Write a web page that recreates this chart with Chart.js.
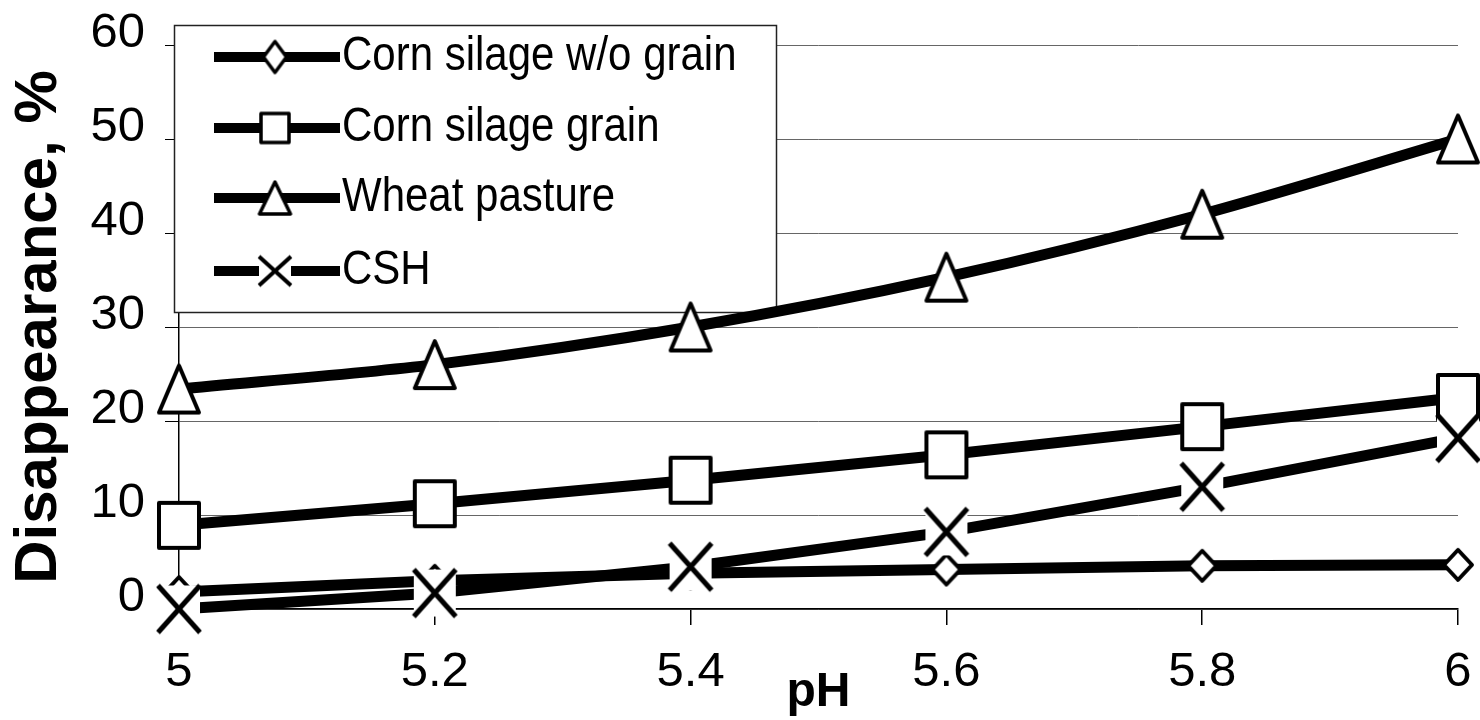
<!DOCTYPE html>
<html>
<head>
<meta charset="utf-8">
<script src="https://cdn.jsdelivr.net/npm/chart.js@4.4.0/dist/chart.umd.min.js"></script>
<style>
  html, body { margin: 0; padding: 0; background: #fff; }
  #wrap { width: 1480px; height: 720px; }
</style>
</head>
<body>
<div id="wrap"><canvas id="chart" width="1480" height="720"></canvas></div>
<script>
// values
var phValues = [5, 5.2, 5.4, 5.6, 5.8, 6];
var cornNoGrain = [1.8, 3.0, 3.8, 4.2, 4.6, 4.7];
var cornGrain = [8.9, 11.2, 13.7, 16.4, 19.4, 22.5];
var wheatPasture = [23.4, 26.0, 30.0, 35.3, 42.0, 50.0];
var csh = [0.0, 1.7, 4.5, 8.2, 13.0, 18.2];
var seriesNames = ['Corn silage w/o grain', 'Corn silage grain', 'Wheat pasture', 'CSH'];
var xTicks = [5, 5.2, 5.4, 5.6, 5.8, 6];
var yTicks = [0, 10, 20, 30, 40, 50, 60];

var FONT = "'Liberation Sans', Arial, sans-serif";

// excel-like markers, a bit taller than wide like the scanned original
function makeMarker(kind, w, h, lw) {
  var pad = Math.ceil(lw) + 2;
  var c = document.createElement('canvas');
  c.width = w + pad * 2;
  c.height = h + pad * 2;
  var g = c.getContext('2d');
  g.translate(pad, pad);
  g.lineWidth = lw;
  g.strokeStyle = '#000';
  g.fillStyle = '#fff';
  g.lineJoin = 'round';
  if (kind === 'cross') {
    g.fillRect(0, 0, w, h);
    g.beginPath();
    g.moveTo(0, 0); g.lineTo(w, h);
    g.moveTo(w, 0); g.lineTo(0, h);
    g.stroke();
    return c;
  }
  g.beginPath();
  if (kind === 'diamond') {
    g.moveTo(w / 2, 0); g.lineTo(w, h / 2); g.lineTo(w / 2, h); g.lineTo(0, h / 2);
  } else if (kind === 'square') {
    g.rect(0, 0, w, h);
  } else if (kind === 'triangle') {
    g.moveTo(w / 2, 0); g.lineTo(w, h); g.lineTo(0, h);
  }
  g.closePath();
  g.fill();
  g.stroke();
  return c;
}

var plotMarkers = [
  makeMarker('diamond', 28, 30, 4),
  makeMarker('square', 40, 45, 4),
  makeMarker('triangle', 40, 47, 4),
  makeMarker('cross', 42, 47, 5)
];
var legendMarkers = [
  makeMarker('diamond', 23, 31, 3.5),
  makeMarker('square', 28, 29, 3.5),
  makeMarker('triangle', 31, 32, 3.5),
  makeMarker('cross', 32, 29, 4)
];

function toPoints(values) {
  return values.map(function(v, i) { return { x: phValues[i], y: v }; });
}

function makeSet(idx, values, order, tension) {
  return {
    label: seriesNames[idx],
    data: toPoints(values),
    order: order,
    borderColor: '#000',
    borderWidth: 11,
    pointStyle: plotMarkers[idx],
    pointRadius: 20,
    pointHoverRadius: 20,
    tension: tension || 0,
    clip: false
  };
}

// legend drawn as a framed box in the upper-left corner
var boxLegend = {
  id: 'boxLegend',
  beforeDatasetsDraw: function(chart) {
    var ctx = chart.ctx;
    var left = 174, top = 25, w = 602, h = 287;
    var rows = [57, 128, 198, 271];
    ctx.save();
    ctx.fillStyle = '#fff';
    ctx.fillRect(left, top, w, h);
    ctx.strokeStyle = '#222';
    ctx.lineWidth = 1.5;
    ctx.strokeRect(left + 0.5, top + 0.5, w, h);
    seriesNames.forEach(function(name, i) {
      var y = rows[i];
      ctx.strokeStyle = '#000';
      ctx.lineWidth = 10;
      ctx.beginPath();
      ctx.moveTo(214, y);
      ctx.lineTo(340, y);
      ctx.stroke();
      var m = legendMarkers[i];
      ctx.drawImage(m, 275 - m.width / 2, y - m.height / 2);
      ctx.save();
      ctx.translate(342, y);
      ctx.scale(1, 1.15);
      ctx.fillStyle = '#000';
      ctx.font = '42px ' + FONT;
      ctx.textBaseline = 'middle';
      ctx.textAlign = 'left';
      ctx.fillText(name, 0, 0);
      ctx.restore();
    });
    ctx.restore();
  }
};

// x-axis title, centred under the plot
var phTitle = {
  id: 'phTitle',
  afterDraw: function(chart) {
    var ctx = chart.ctx;
    var area = chart.chartArea;
    ctx.save();
    ctx.fillStyle = '#000';
    ctx.font = 'bold 48px ' + FONT;
    ctx.textAlign = 'center';
    ctx.textBaseline = 'middle';
    ctx.fillText('pH', (area.left + area.right) / 2, 693);
    ctx.restore();
  }
};

new Chart(document.getElementById('chart').getContext('2d'), {
  type: 'line',
  data: {
    datasets: [
      makeSet(0, cornNoGrain, 3),
      makeSet(1, cornGrain, 2),
      makeSet(2, wheatPasture, 1, 0.3),
      makeSet(3, csh, 0)
    ]
  },
  options: {
    responsive: false,
    animation: false,
    devicePixelRatio: 1,
    layout: { autoPadding: false, padding: { top: 45, right: 22, left: 0, bottom: 0 } },
    plugins: { legend: { display: false }, tooltip: { enabled: false } },
    scales: {
      x: {
        type: 'linear',
        min: 5,
        max: 6,
        afterBuildTicks: function(scale) {
          scale.ticks = xTicks.map(function(v) { return { value: v }; });
        },
        afterFit: function(scale) {
          scale.height = 111;
          scale.paddingLeft = 0;
          scale.paddingRight = 0;
        },
        border: { display: true, color: '#000', width: 1.5 },
        grid: { display: true, drawOnChartArea: false, tickLength: 16, tickColor: '#000', lineWidth: 1.5 },
        ticks: {
          color: '#000',
          padding: 18,
          font: { family: FONT, size: 49 },
          callback: function(v) { return String(v); }
        }
      },
      y: {
        min: 0,
        max: 60,
        afterBuildTicks: function(scale) {
          scale.ticks = yTicks.map(function(v) { return { value: v }; });
        },
        afterFit: function(scale) {
          scale.width = 179;
          scale.paddingTop = 0;
          scale.paddingBottom = 0;
        },
        border: { display: true, color: '#000', width: 1.5 },
        grid: { color: '#666', lineWidth: 1, tickLength: 14, tickColor: '#000' },
        ticks: {
          color: '#000',
          padding: 20,
          labelOffset: -12,
          font: { family: FONT, size: 49 }
        },
        title: {
          display: true,
          text: 'Disappearance, %',
          color: '#000',
          padding: { top: 3, bottom: 0 },
          font: { family: FONT, size: 60, weight: 'bold' }
        }
      }
    }
  },
  plugins: [boxLegend, phTitle]
});
</script>
</body>
</html>
